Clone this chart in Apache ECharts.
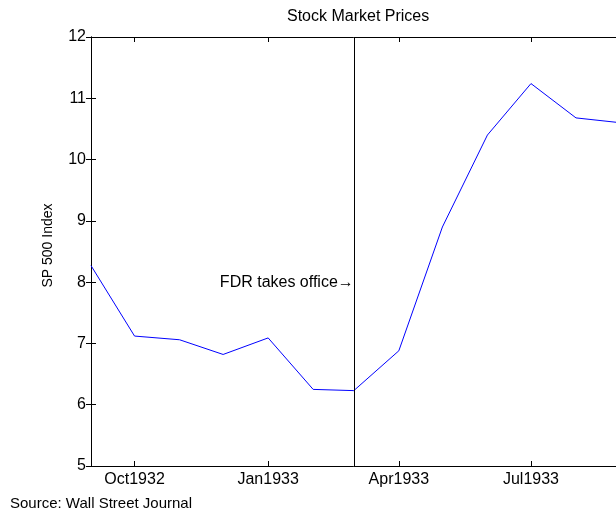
<!DOCTYPE html>
<html>
<head>
<meta charset="utf-8">
<script src="https://cdn.jsdelivr.net/npm/echarts@6/dist/echarts.min.js"></script>
<style>
  html, body { margin: 0; padding: 0; background: #fff; }
  #chart { width: 616px; height: 512px; }
</style>
</head>
<body>
<div id="chart"></div>
<script>
// monthly S&P 500 index, first of each month
const months = ['1932-09-01', '1932-10-01', '1932-11-01', '1932-12-01', '1933-01-01',
  '1933-02-01', '1933-03-01', '1933-04-01', '1933-05-01', '1933-06-01',
  '1933-07-01', '1933-08-01', '1933-09-01'];
const prices = [8.27, 7.12, 7.06, 6.82, 7.09, 6.25, 6.23, 6.88, 8.90, 10.40, 11.24, 10.68, 10.60];

const tickDates = ['1932-10-01', '1933-01-01', '1933-04-01', '1933-07-01'];
const tickLabels = ['Oct1932', 'Jan1933', 'Apr1933', 'Jul1933'];

const fdrDate = '1933-03-01';
const fdrLevel = 8;
const fdrText = 'FDR takes office\u2192';

// days since 1 Sep 1932, so the axis is a plain value axis in days
const DAY = 86400000;
const origin = Date.UTC(1932, 8, 1);
function day(s) {
  let p = s.split('-');
  return Math.round((Date.UTC(+p[0], +p[1] - 1, +p[2]) - origin) / DAY);
}

const xMin = day(months[0]);
const xMax = day(months[months.length - 1]);
const tickDays = tickDates.map(day);

let chart = echarts.init(document.getElementById('chart'));

const font = 'Liberation Sans, Arial, Helvetica, sans-serif';

let option = {
  animation: false,
  backgroundColor: '#fff',
  textStyle: { fontFamily: font },
  title: [
    {
      text: 'Stock Market Prices',
      left: 282,
      top: 4,
      textStyle: { fontSize: 16, fontWeight: 'normal', color: '#000', fontFamily: font }
    },
    {
      text: 'Source: Wall Street Journal',
      left: 5,
      top: 491,
      textStyle: { fontSize: 15, fontWeight: 'normal', color: '#000', fontFamily: font }
    }
  ],
  // the plot box runs past the right edge of the picture
  grid: { left: 91, width: 530, top: 37, height: 429, outerBoundsMode: 'none', containLabel: false },
  xAxis: [
    {
      type: 'value',
      min: xMin,
      max: xMax,
      position: 'bottom',
      axisLine: { show: true, lineStyle: { color: '#000', width: 1 } },
      axisTick: { show: true, inside: true, length: 5, customValues: tickDays, lineStyle: { color: '#000' } },
      axisLabel: {
        customValues: tickDays,
        color: '#000',
        fontSize: 16,
        margin: 6,
        formatter: (v) => {
          let i = tickDays.indexOf(v);
          return i >= 0 ? tickLabels[i] : '';
        }
      },
      splitLine: { show: false }
    },
    {
      type: 'value',
      min: xMin,
      max: xMax,
      position: 'top',
      axisLine: { show: true, lineStyle: { color: '#000', width: 1 } },
      axisTick: { show: true, inside: true, length: 5, customValues: tickDays, lineStyle: { color: '#000' } },
      axisLabel: { show: false },
      splitLine: { show: false }
    }
  ],
  yAxis: [
    {
      type: 'value',
      min: 5,
      max: 12,
      interval: 1,
      position: 'left',
      name: 'SP 500 Index',
      nameLocation: 'middle',
      nameGap: 36,
      nameTextStyle: { color: '#000', fontSize: 14, fontFamily: font, padding: [0, 0, 0, 12] },
      axisLine: { show: true, lineStyle: { color: '#000', width: 1 } },
      axisTick: { show: true, inside: true, length: 5, lineStyle: { color: '#000' } },
      axisLabel: { color: '#000', fontSize: 16, margin: 5 },
      splitLine: { show: false }
    },
    {
      type: 'value',
      min: 5,
      max: 12,
      interval: 1,
      position: 'right',
      axisLine: { show: true, lineStyle: { color: '#000', width: 1 } },
      axisTick: { show: true, inside: true, length: 5, lineStyle: { color: '#000' } },
      axisLabel: { show: false },
      splitLine: { show: false }
    }
  ],
  series: [
    {
      type: 'line',
      data: months.map((m, i) => [day(m), prices[i]]),
      showSymbol: false,
      symbol: 'none',
      lineStyle: { color: '#0000ff', width: 1 },
      itemStyle: { color: '#0000ff' },
      silent: true,
      markLine: {
        silent: true,
        symbol: ['none', 'none'],
        label: { show: false },
        lineStyle: { color: '#000', width: 1, type: 'solid' },
        data: [{ xAxis: day(fdrDate) }]
      },
      markPoint: {
        silent: true,
        symbol: 'circle',
        symbolSize: 0,
        label: {
          show: true,
          position: 'left',
          distance: 0,
          color: '#000',
          fontSize: 16,
          fontFamily: font,
          formatter: fdrText
        },
        data: [{ coord: [day(fdrDate), fdrLevel] }]
      }
    }
  ]
};

option && chart.setOption(option);
</script>
</body>
</html>
